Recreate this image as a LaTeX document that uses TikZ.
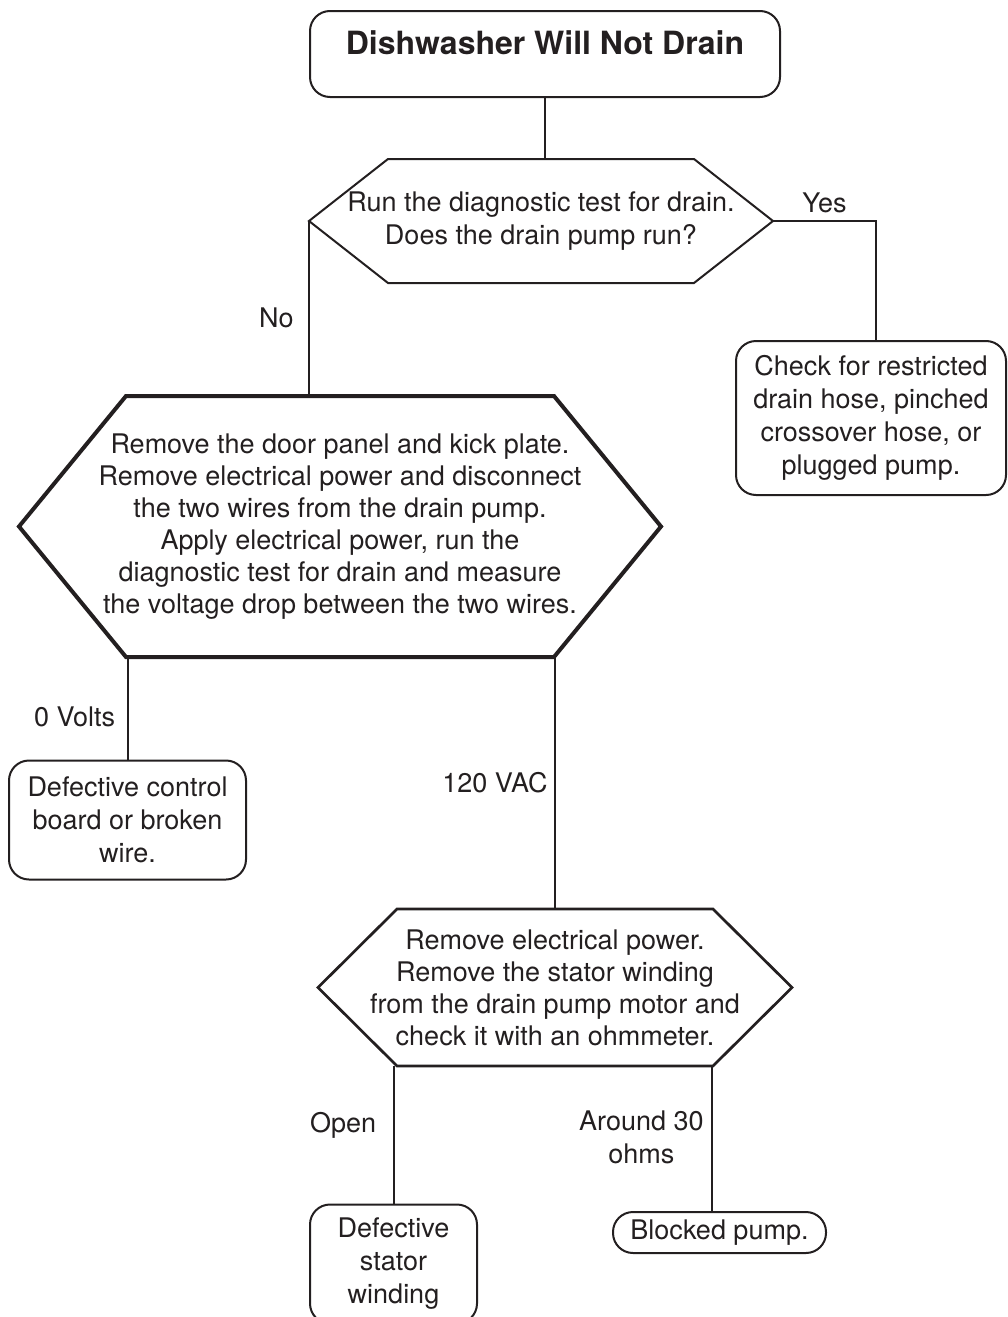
\documentclass[tikz,border=0pt]{standalone}
\usepackage{fontspec}
\setmainfont{TeX Gyre Heros}
\usetikzlibrary{calc}
\definecolor{chartink}{HTML}{231F20}

\begin{document}
\begin{tikzpicture}[
        x=1pt, y=-1pt,
        font=\fontsize{27}{33}\selectfont,
        result/.style={
            draw=chartink,
            line width=2pt,
            rounded corners=20pt,
            align=center,
            inner sep=0pt,
            text=chartink
        },
        question/.style={
            align=center,
            inner sep=0pt,
            outer sep=0pt,
            text=chartink
        },
        link/.style={draw=chartink, line width=2pt},
        answer/.style={text=chartink}
    ]
    \useasboundingbox (0,0) rectangle (1008,1317);

    \node[result, minimum width=470pt, minimum height=86pt, text height=24pt, text depth=23pt,
          font=\fontsize{32}{38}\selectfont\bfseries] (title) at (545,54) {Dishwasher Will Not Drain};
    \node[question, minimum width=464pt, minimum height=124pt] (drain) at (541,221)
        {Run the diagnostic test for drain.\\Does the drain pump run?};
    \node[result, minimum width=270pt, minimum height=154pt] (check) at (871,418)
        {Check for restricted\\drain hose, pinched\\crossover hose, or\\plugged pump.};
    \node[question, minimum width=642pt, minimum height=261pt,
          font=\fontsize{27}{32}\selectfont] (voltage) at (340,526.5)
        {Remove the door panel and kick plate.\\Remove electrical power and disconnect\\the two wires from the drain pump.\\Apply electrical power, run the\\diagnostic test for drain and measure\\the voltage drop between the two wires.};
    \node[result, minimum width=237pt, minimum height=119pt] (board) at (127.5,820)
        {Defective control\\board or broken\\wire.};
    \node[question, minimum width=474pt, minimum height=157pt,
          font=\fontsize{27}{32}\selectfont] (stator) at (555,987.5)
        {Remove electrical power.\\Remove the stator winding\\from the drain pump motor and\\check it with an ohmmeter.};
    \node[result, minimum width=167pt, minimum height=119pt] (winding) at (393.5,1264)
        {Defective\\stator\\winding};
    \node[result, minimum width=213pt, minimum height=41pt] (blocked) at (719.5,1232.5)
        {Blocked pump.};

    % hexagon outlines round the question nodes
    \foreach \hex/\cut/\weight in {drain/79/2pt, voltage/107/4pt, stator/79/2.7pt}
        \draw[chartink, line width=\weight, line join=miter]
            (\hex.west) -- ($(\hex.north west)+(\cut,0)$) -- ($(\hex.north east)-(\cut,0)$)
            -- (\hex.east) -- ($(\hex.south east)-(\cut,0)$) -- ($(\hex.south west)+(\cut,0)$) -- cycle;

    \coordinate (yesfoot) at ([xshift=5pt]check.north);
    \coordinate (ohmsfoot) at ([xshift=-7.5pt]blocked.north);

    \draw[link] (title.south) -- (title.south |- drain.north);
    \draw[link] (drain.east) -| node[answer, pos=0.25, above=4pt] {Yes} (yesfoot);
    \draw[link] (drain.west) -- node[answer, left=11pt, pos=0.555] {No} (drain.west |- voltage.north);
    \draw[link] (board.north |- voltage.south) -- node[answer, left=8pt, pos=0.58] {0 Volts} (board.north);
    \draw[link] (stator.north |- voltage.south) -- node[answer, left=3pt, pos=0.5] {120 VAC} (stator.north);
    \draw[link] (winding.north |- stator.south) -- node[answer, left=13pt, pos=0.43] {Open} (winding.north);
    \draw[link] (ohmsfoot |- stator.south) -- node[answer, left=4pt, pos=0.49, align=center]
        {Around 30\\ohms} (ohmsfoot);
\end{tikzpicture}
\end{document}
